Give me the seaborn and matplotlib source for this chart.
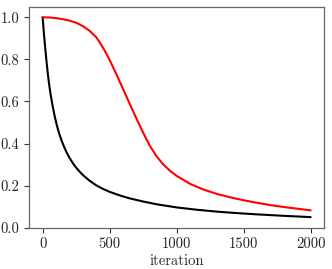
import matplotlib
matplotlib.use("Agg")
import matplotlib.pyplot as plt
import seaborn as sns
import pandas as pd

# Data
black_x = [0, 10, 20, 30, 40, 50, 60, 75, 90, 105, 120, 140, 160, 180, 200, 230, 260, 300,
           350, 400, 450, 500, 575, 650, 750, 850, 1000, 1150, 1300, 1450, 1600, 1800, 2000]
black_y = [1.0, 0.92, 0.85, 0.785, 0.725, 0.675, 0.632, 0.578, 0.53, 0.49, 0.455, 0.417, 0.385,
           0.357, 0.333, 0.303, 0.278, 0.251, 0.224, 0.202, 0.185, 0.171, 0.154, 0.14, 0.125,
           0.112, 0.097, 0.086, 0.077, 0.07, 0.064, 0.057, 0.051]

red_x = [0, 50, 100, 150, 200, 250, 300, 350, 400, 425, 450, 475, 500, 550, 600, 650, 700, 750,
         800, 850, 900, 950, 1000, 1100, 1200, 1300, 1400, 1500, 1600, 1700, 1800, 1900, 2000]
red_y = [1.0, 0.999, 0.996, 0.991, 0.984, 0.974, 0.958, 0.936, 0.905, 0.882, 0.856, 0.828, 0.797,
         0.730, 0.660, 0.589, 0.519, 0.452, 0.390, 0.340, 0.301, 0.271, 0.247, 0.209, 0.182,
         0.161, 0.145, 0.131, 0.119, 0.108, 0.099, 0.091, 0.083]

x_ticks = [0, 500, 1000, 1500, 2000]
y_ticks = [0.0, 0.2, 0.4, 0.6, 0.8, 1.0]

sns.set_style("white")
plt.rcParams["font.family"] = ["cmr10", "DejaVu Serif"]
plt.rcParams["axes.formatter.use_mathtext"] = True
plt.rcParams["mathtext.fontset"] = "cm"

df = pd.concat([
    pd.DataFrame({"iteration": black_x, "value": black_y, "series": "a"}),
    pd.DataFrame({"iteration": red_x, "value": red_y, "series": "b"}),
])

fig = plt.figure(figsize=(3.32, 2.69), dpi=100)
ax = fig.add_axes([0.088, 0.153, 0.888, 0.822])
sns.lineplot(data=df, x="iteration", y="value", hue="series",
             palette={"a": "black", "b": "red"}, linewidth=1.5,
             legend=False, ax=ax, sort=False)

ax.set_xlim(-100, 2100)
ax.set_ylim(0, 1.05)
ax.set_xticks(x_ticks)
ax.set_yticks(y_ticks)
ax.set_xticklabels([str(t) for t in x_ticks])
ax.set_yticklabels([f"{t:.1f}" for t in y_ticks])
ax.set_xlabel("iteration", fontsize=10.5, labelpad=2)
ax.set_ylabel("")
ax.tick_params(axis="both", labelsize=10.5, colors="#333333", labelcolor="#222222",
               length=3.5, width=0.8, direction="out", bottom=True, left=True)
for s in ax.spines.values():
    s.set_color("#666666")
    s.set_linewidth(0.9)
    s.set_visible(True)

fig.savefig("out.png", dpi=100)
